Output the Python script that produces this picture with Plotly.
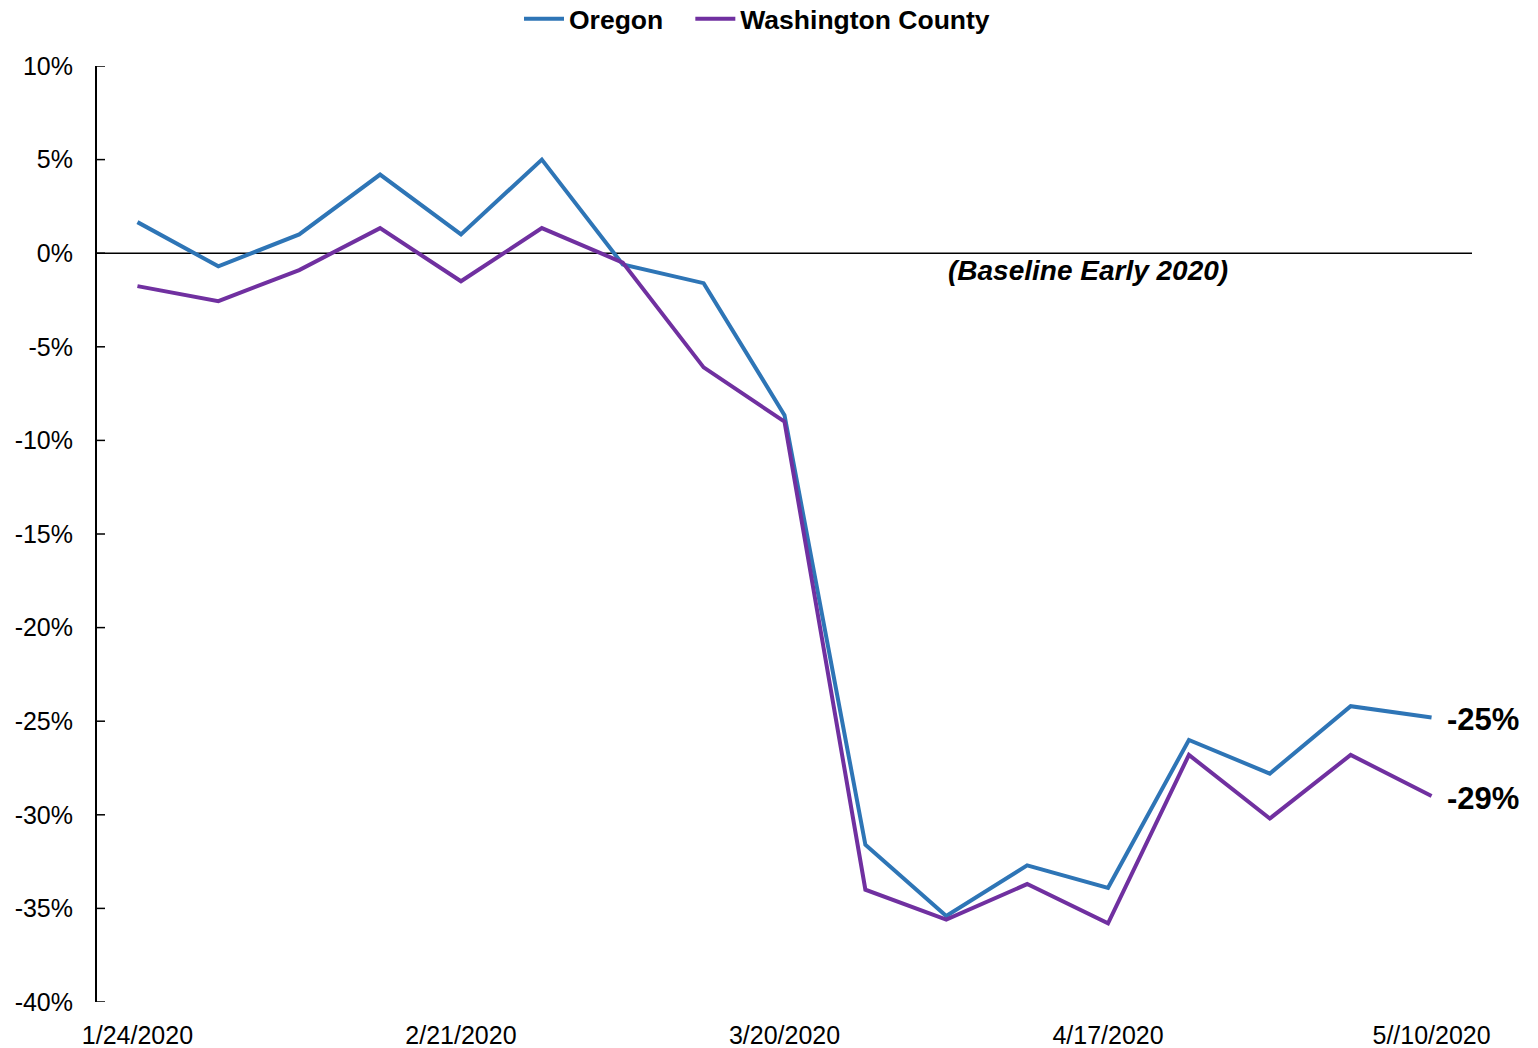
import plotly.graph_objects as go

dates = ["1/24/2020", "1/31/2020", "2/7/2020", "2/14/2020", "2/21/2020", "2/28/2020",
         "3/6/2020", "3/13/2020", "3/20/2020", "3/27/2020", "4/3/2020", "4/10/2020",
         "4/17/2020", "4/24/2020", "5/1/2020", "5/8/2020", "5//10/2020"]
oregon = [1.66, -0.7, 1.0, 4.2, 1.0, 5.0, -0.6, -1.6, -8.65, -31.6, -35.4, -32.7,
          -33.9, -26.0, -27.8, -24.2, -24.8]
washington = [-1.76, -2.56, -0.9, 1.34, -1.5, 1.34, -0.5, -6.1, -9.0, -34.0, -35.6,
              -33.7, -35.8, -26.8, -30.2, -26.8, -29.0]
tick_dates = ["1/24/2020", "2/21/2020", "3/20/2020", "4/17/2020", "5//10/2020"]
y_ticks = [10, 5, 0, -5, -10, -15, -20, -25, -30, -35, -40]
y_ticktext = [f"{v}%" for v in y_ticks]
end_labels = ["-25%", "-29%"]
series_names = ["Oregon", "Washington County"]

FONT = "Liberation Sans, Arial"
PLOT_W = 1538 - 97 - 66

fig = go.Figure()
fig.add_trace(go.Scatter(x=dates, y=oregon, mode="lines",
                         name=series_names[0] + "&nbsp;&nbsp;&nbsp;",
                         hovertemplate=series_names[0] + ": %{y}%<extra></extra>",
                         line=dict(color="#2E75B6", width=4)))
fig.add_trace(go.Scatter(x=dates, y=washington, mode="lines", name=series_names[1],
                         hovertemplate=series_names[1] + ": %{y}%<extra></extra>",
                         line=dict(color="#7030A0", width=4)))

fig.add_shape(type="line", xref="paper", x0=0, x1=1, yref="y", y0=0, y1=0,
              line=dict(color="black", width=1.5), layer="below")

# inside tick marks on the y axis
for v in y_ticks:
    fig.add_shape(type="line", xref="paper", x0=0, x1=8 / PLOT_W, yref="y", y0=v, y1=v,
                  line=dict(color="black", width=1.5))

fig.add_annotation(x=dates[-1], y=oregon[-1], text="<b>" + end_labels[0] + "</b>",
                   showarrow=False, xanchor="left", xshift=13, yshift=-2,
                   font=dict(family=FONT, size=31, color="black"))
fig.add_annotation(x=dates[-1], y=washington[-1], text="<b>" + end_labels[1] + "</b>",
                   showarrow=False, xanchor="left", xshift=13, yshift=-2,
                   font=dict(family=FONT, size=31, color="black"))
fig.add_annotation(x=dates[12], y=-0.9, text="<b><i>(Baseline Early 2020)</i></b>",
                   showarrow=False, xanchor="center", xshift=-20,
                   font=dict(family=FONT, size=28, color="black"))

fig.update_layout(
    width=1538, height=1048,
    margin=dict(l=97, r=66, t=66, b=46),
    paper_bgcolor="white", plot_bgcolor="white",
    font=dict(family=FONT, size=25, color="black"),
    showlegend=True,
    legend=dict(orientation="h", x=0.480, xanchor="center", y=1 - 19 / 1048,
                yanchor="middle", yref="container",
                font=dict(family=FONT, size=26.5, color="black", weight="bold"),
                itemwidth=40, tracegroupgap=0),
    xaxis=dict(type="category", range=[-0.5, 16.5], tickvals=tick_dates, ticktext=tick_dates,
               showgrid=False, showline=False, zeroline=False, ticks="",
               ticklabelstandoff=16, tickfont=dict(size=25), automargin=False),
    yaxis=dict(range=[-40, 10], tickvals=y_ticks, ticktext=y_ticktext, showgrid=False,
               zeroline=False, showline=True, linecolor="black", linewidth=2,
               ticks="", tickfont=dict(size=25), ticklabelstandoff=17, automargin=False),
)

fig.write_html("out.html", config={"displayModeBar": False},
               post_script="document.body.style.margin='0';document.body.style.overflow='hidden';")
